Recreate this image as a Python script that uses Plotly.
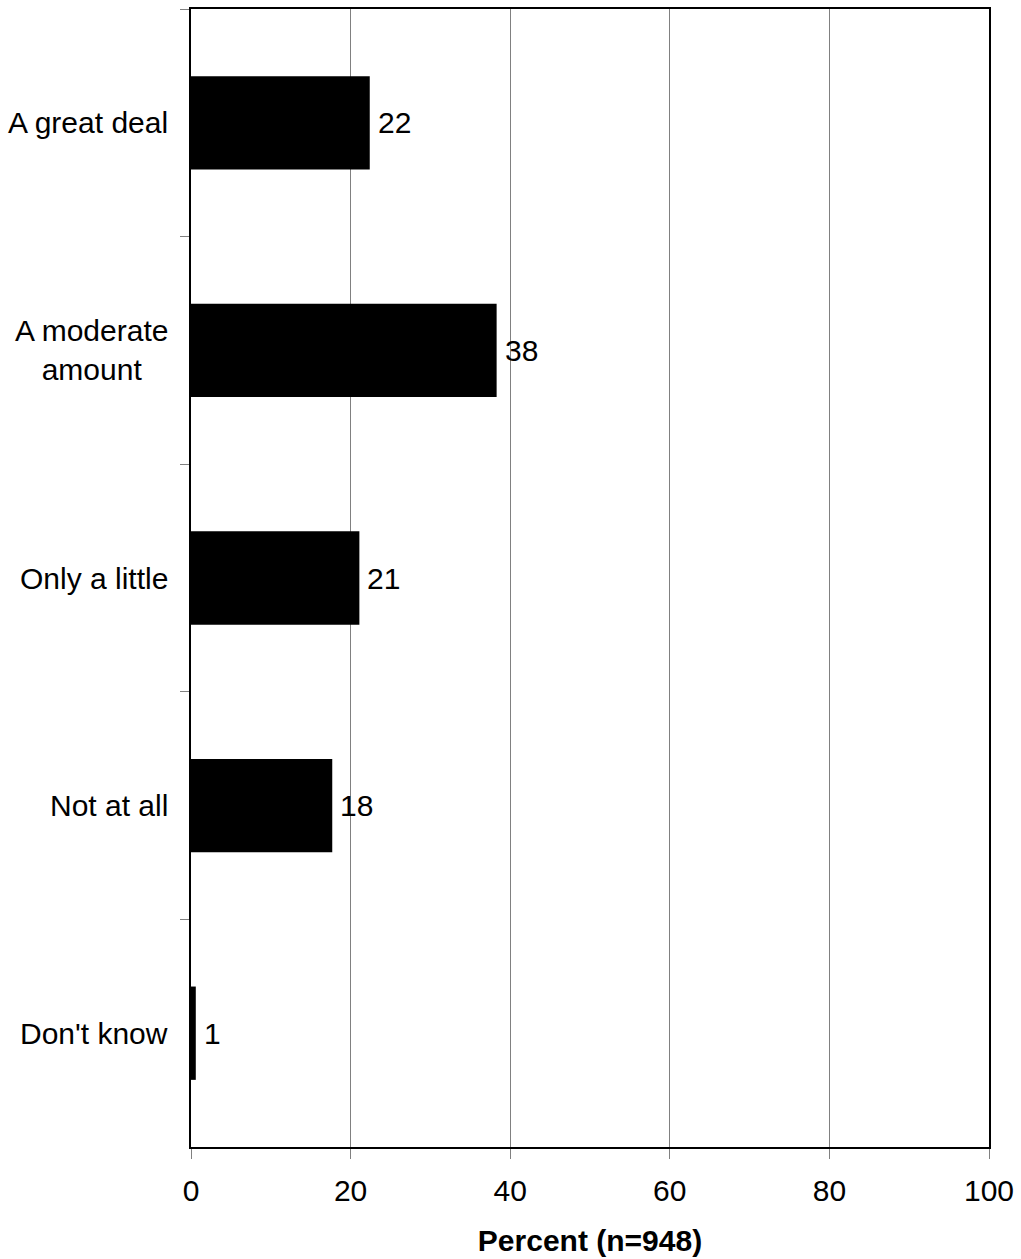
import plotly.graph_objects as go

categories = ["A great deal", "A moderate<br>amount", "Only a little", "Not at all", "Don't know"]
values = [22.4, 38.3, 21.1, 17.7, 0.6]
value_labels = ["22", "38", "21", "18", "1"]
x_ticks = [0, 20, 40, 60, 80, 100]
x_title = "Percent (n=948)"

FONT = "Liberation Sans, Arial, sans-serif"
FS = 30

fig = go.Figure()
fig.add_trace(go.Bar(
    x=values, y=categories, orientation="h",
    marker=dict(color="black", line=dict(width=0)),
    showlegend=False, hoverinfo="skip",
))

# value labels
for v, lab, c in zip(values, value_labels, categories):
    fig.add_annotation(x=v, y=c, xref="x", yref="y", text=lab, showarrow=False,
                       xanchor="left", yanchor="middle", xshift=6,
                       font=dict(family=FONT, size=FS, color="black"))

# category labels (centered multi-line)
for c in categories:
    fig.add_annotation(x=0, y=c, xref="paper", yref="y", text=c, showarrow=False,
                       xanchor="right", yanchor="middle", xshift=-21, align="center",
                       font=dict(family=FONT, size=FS, color="black"))

fig.update_layout(
    width=1021, height=1259,
    margin=dict(l=191, r=28, t=7, b=112),
    paper_bgcolor="white", plot_bgcolor="white",
    bargap=0.59,
    font=dict(family=FONT, size=FS, color="black"),
    xaxis=dict(
        range=[0, 100], tickvals=x_ticks, ticktext=[str(t) for t in x_ticks],
        showgrid=True, gridcolor="#808080", gridwidth=1,
        zeroline=False, showline=True, linecolor="black", linewidth=2, mirror=True,
        ticks="outside", ticklen=10, tickcolor="#808080", tickwidth=1,
        ticklabelstandoff=6,
        tickfont=dict(family=FONT, size=FS, color="black"),
        title=dict(text="<b>" + x_title + "</b>", standoff=24,
                   font=dict(family=FONT, size=FS, color="black")),
        fixedrange=True,
    ),
    yaxis=dict(
        categoryorder="array", categoryarray=categories, autorange="reversed",
        showticklabels=False, showgrid=False, zeroline=False,
        showline=True, linecolor="black", linewidth=2, mirror=True,
        ticks="outside", ticklen=9, tickcolor="#808080", tickwidth=1,
        tickson="boundaries",
        fixedrange=True,
    ),
)

fig.write_html("out.html", config={"displayModeBar": False},
               post_script="document.body.style.margin='0';document.body.style.overflow='hidden';")
